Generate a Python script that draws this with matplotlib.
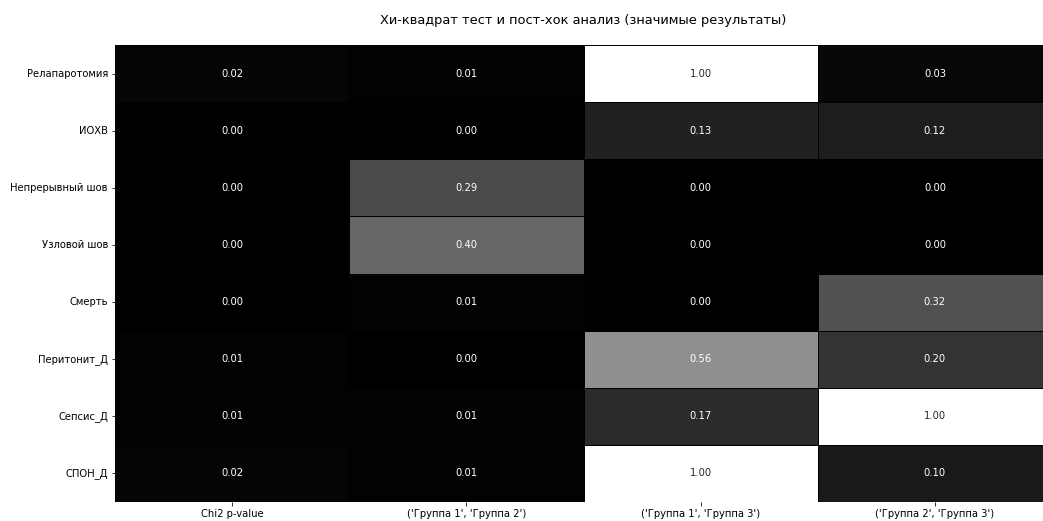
import matplotlib
matplotlib.use("Agg")
import matplotlib.pyplot as plt
import numpy as np
import pandas as pd
import seaborn as sns

rows = ["Релапаротомия", "ИОХВ", "Непрерывный шов", "Узловой шов",
        "Смерть", "Перитонит_Д", "Сепсис_Д", "СПОН_Д"]
columns = ["Chi2 p-value", "('Группа 1', 'Группа 2')",
           "('Группа 1', 'Группа 3')", "('Группа 2', 'Группа 3')"]

chi2_p = [0.02, 0.00, 0.00, 0.00, 0.00, 0.01, 0.01, 0.02]
g1_g2 = [0.01, 0.00, 0.29, 0.40, 0.01, 0.00, 0.01, 0.01]
g1_g3 = [1.00, 0.13, 0.00, 0.00, 0.00, 0.56, 0.17, 1.00]
g2_g3 = [0.03, 0.12, 0.00, 0.00, 0.32, 0.20, 1.00, 0.10]

df = pd.DataFrame(
    np.column_stack([chi2_p, g1_g2, g1_g3, g2_g3]),
    index=rows, columns=columns,
)

fig = plt.figure(figsize=(1043 / 72, 521 / 72), dpi=72)
ax = fig.add_axes([115 / 1043, 19 / 521, (1052 - 115) / 1043, (502 - 45) / 521])

sns.heatmap(df, ax=ax, cmap="gray", vmin=0, vmax=1, annot=True, fmt=".2f",
            linewidths=0.5, linecolor="black", cbar=False)

ax.set_title("Хи-квадрат тест и пост-хок анализ (значимые результаты)", fontsize=13, pad=21)
ax.tick_params(axis="both", labelsize=10)
plt.setp(ax.get_yticklabels(), rotation=0)
plt.setp(ax.get_xticklabels(), rotation=0)

fig.savefig("out.png", dpi=72)
